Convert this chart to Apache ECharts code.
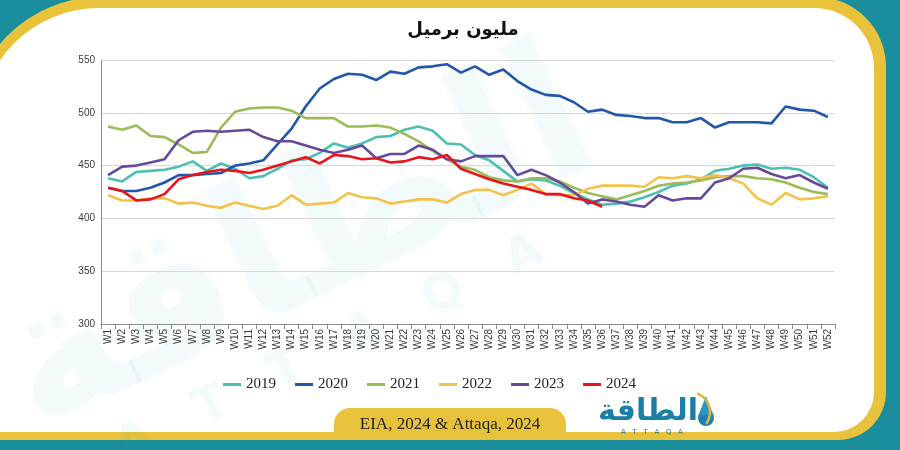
<!DOCTYPE html>
<html>
<head>
<meta charset="utf-8">
<script src="https://cdn.jsdelivr.net/npm/echarts@6/dist/echarts.min.js"></script>
<style>html,body{margin:0;padding:0;background:#1b8e9d;}#c{width:900px;height:450px;}</style>
</head>
<body>
<div id="c"></div>
<script>
const weeks = ["W1","W2","W3","W4","W5","W6","W7","W8","W9","W10","W11","W12","W13","W14","W15","W16","W17","W18","W19","W20","W21","W22","W23","W24","W25","W26","W27","W28","W29","W30","W31","W32","W33","W34","W35","W36","W37","W38","W39","W40","W41","W42","W43","W44","W45","W46","W47","W48","W49","W50","W51","W52"];
const y2019 = [438,435,444,445,446,449,454,445,452,447,438,440,447,455,456,462,471,467,471,477,478,484,487,483,471,470,460,455,445,435,437,436,431,424,418,413,414,416,420,425,431,433,437,445,447,450,451,447,448,446,439,429];
const y2020 = [429,426,426,429,434,441,441,442,443,450,452,455,470,485,506,523,532,537,536,531,539,537,543,544,546,538,544,536,541,530,522,517,516,510,501,503,498,497,495,495,491,491,495,486,491,491,491,490,506,503,502,496];
const y2021 = [487,484,488,478,477,470,462,463,486,501,504,505,505,502,495,495,495,487,487,488,486,480,473,464,456,449,446,439,436,435,438,438,435,429,424,421,418,422,426,431,433,434,436,439,440,440,438,437,434,429,425,423];
const y2022 = [422,417,417,419,419,414,415,412,410,415,412,409,412,422,413,414,415,424,420,419,414,416,418,418,415,423,427,427,422,427,433,423,422,422,428,431,431,431,430,439,438,440,438,441,438,433,419,413,424,418,419,421];
const y2023 = [441,449,450,453,456,474,482,483,482,483,484,477,473,473,469,465,462,465,469,457,461,461,469,465,456,454,459,459,459,441,446,441,434,425,414,418,416,413,411,422,417,419,419,434,438,447,448,442,438,441,434,428];
const y2024 = [429,426,417,418,423,437,441,444,446,445,443,446,450,454,458,452,460,459,456,457,453,454,458,456,460,447,442,437,433,430,427,423,423,419,417,411];
const yearNames = ["2019","2020","2021","2022","2023","2024"];
const yearColors = ["#4cbfb0","#2157ab","#9bbb59","#f3c24a","#66499a","#e8141c"];
const yTicks = {min:300, max:550, interval:50};

const allSeries = [y2019,y2020,y2021,y2022,y2023,y2024];
const chart = echarts.init(document.getElementById('c'), null, {renderer:'canvas'});

chart.setOption({
  backgroundColor: '#1b8e9d',
  animation: false,
  graphic: [
    {type:'rect', z:-10, silent:true, shape:{x:-30,y:-3,width:916,height:443,r:[130,70,48,0]}, style:{fill:'#e9c23c'}},
    {type:'rect', z:-9, silent:true, shape:{x:-21,y:8,width:895,height:424,r:[120,60,40,0]}, style:{fill:'#ffffff'}},
    {type:'text', z:-8, silent:true, x:300, y:250, rotation:Math.PI/7, style:{text:'الطاقة', font:'bold 190px "DejaVu Sans"', fill:'rgba(40,160,180,0.055)', textAlign:'center', textVerticalAlign:'middle'}},
    {type:'text', z:-8, silent:true, x:330, y:350, rotation:Math.PI/7, style:{text:'A   T   T   A   Q   A', font:'bold 48px "DejaVu Sans"', fill:'rgba(40,160,180,0.055)', textAlign:'center', textVerticalAlign:'middle'}},
    {type:'text', z:5, silent:true, x:463, y:30, style:{text:'مليون برميل', font:'bold 18px "DejaVu Sans"', fill:'#111', textAlign:'center', textVerticalAlign:'middle'}},
    {type:'rect', z:-7, silent:true, shape:{x:334,y:408,width:232,height:30,r:[16,16,0,0]}, style:{fill:'#e9c23c'}},
    {type:'text', z:5, silent:true, x:450, y:425, style:{text:'EIA, 2024 & Attaqa, 2024', font:'17px "Liberation Serif"', fill:'#222', textAlign:'center', textVerticalAlign:'middle'}},
    {type:'text', z:5, silent:true, x:648, y:412, style:{text:'الطاقة', font:'bold 30px "DejaVu Sans"', fill:'#1a7ea6', textAlign:'center', textVerticalAlign:'middle'}},
    {type:'text', z:5, silent:true, x:652, y:432, style:{text:'A   T   T   A   Q   A', font:'7px "DejaVu Sans"', fill:'#1a7ea6', textAlign:'center', textVerticalAlign:'middle'}},
    {type:'circle', z:5, silent:true, shape:{cx:706, cy:418, r:8}, style:{fill:'#1e7fb8'}},
    {type:'polygon', z:5, silent:true, shape:{points:[[706,396],[713.5,415],[698.5,415]]}, style:{fill:'#2a95c8'}},
    {type:'arc', z:6, silent:true, shape:{cx:690, cy:412, r:20, startAngle:-Math.PI/2.6, endAngle:Math.PI/5}, style:{fill:null, stroke:'#e9b530', lineWidth:2.5}}
  ],
  grid: {left:101, right:65, top:60, bottom:126, containLabel:false},
  legend: {
    data: yearNames, left:218, top:372, icon:'rect', itemWidth:18, itemHeight:3, itemGap:19,
    textStyle:{fontFamily:'"Liberation Serif"', fontSize:15, color:'#222'}
  },
  xAxis: {
    type:'category', data:weeks, boundaryGap:true,
    axisLine:{show:true, lineStyle:{color:'#8c8c8c', width:1}},
    axisTick:{show:true, length:5, lineStyle:{color:'#8c8c8c'}},
    axisLabel:{interval:0, rotate:90, fontSize:10, color:'#3a3a3a', fontFamily:'"Liberation Sans"', margin:5}
  },
  yAxis: {
    type:'value', min:yTicks.min, max:yTicks.max, interval:yTicks.interval,
    axisLine:{show:true, lineStyle:{color:'#8c8c8c', width:1}},
    axisTick:{show:false},
    splitLine:{lineStyle:{color:'#d9d9d9', width:1}},
    axisLabel:{fontSize:10, color:'#3a3a3a', fontFamily:'"Liberation Sans"', margin:6}
  },
  series: yearNames.map((n,i)=>({
    name:n, type:'line', data:allSeries[i], showSymbol:false, symbol:'none', smooth:false,
    lineStyle:{width:2.6, color:yearColors[i]}, itemStyle:{color:yearColors[i]}, z:2+i
  }))
});
</script>
</body>
</html>
